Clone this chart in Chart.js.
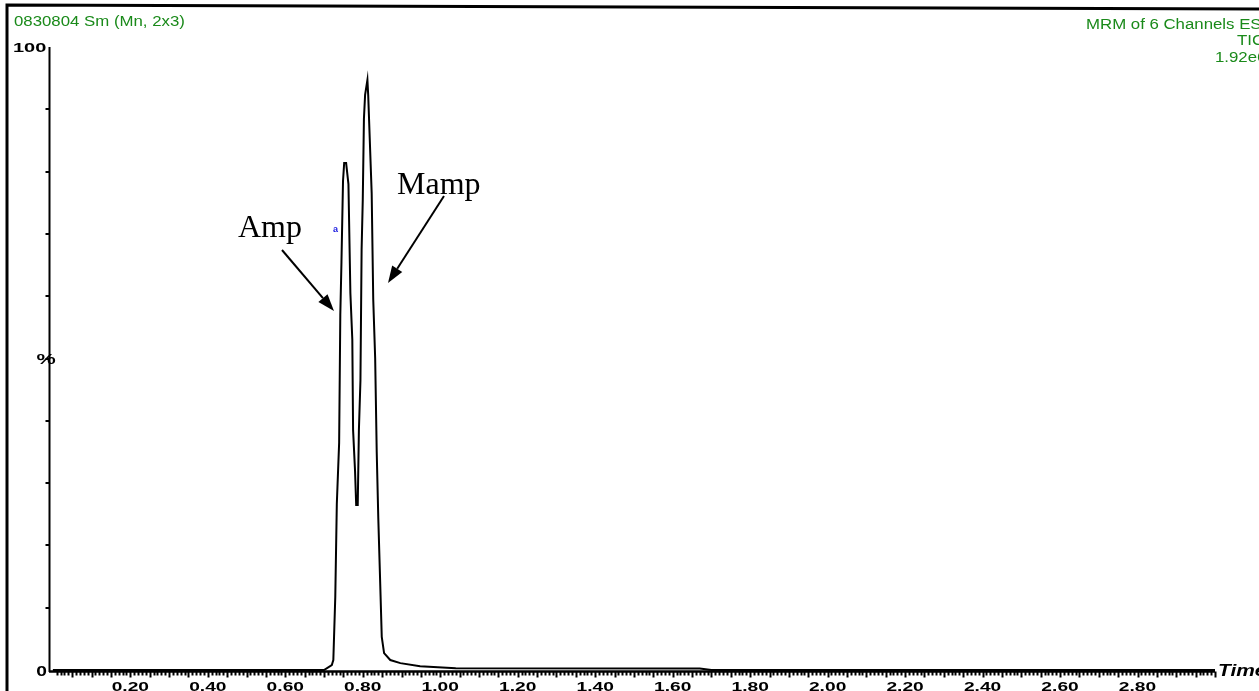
<!DOCTYPE html>
<html>
<head>
<meta charset="utf-8">
<script src="https://cdn.jsdelivr.net/npm/chart.js@4"></script>
<style>
  html, body { margin: 0; padding: 0; background: #fff; overflow: hidden; }
  canvas { display: block; }
</style>
</head>
<body>
<canvas id="ticChart" width="1259" height="691"></canvas>
<script>
// TIC trace: retention time (min) and relative intensity (%)
const retTime = [0.00, 0.70, 0.720, 0.724, 0.729, 0.733, 0.739, 0.742, 0.745, 0.749, 0.752, 0.757,
  0.763, 0.768, 0.773, 0.775, 0.780, 0.783, 0.787, 0.790, 0.794, 0.797, 0.800, 0.803, 0.806,
  0.812, 0.814, 0.819, 0.823, 0.827, 0.832, 0.836, 0.840, 0.845, 0.849, 0.855, 0.871, 0.897,
  0.948, 1.04, 1.67, 1.70, 3.00];
const intensity = [0, 0, 0.8, 1.6, 11.7, 26.7, 36.5, 57.0, 65.5, 78.5, 81.4, 81.4,
  78.0, 60.5, 53.0, 38.5, 32.0, 26.5, 26.5, 38.5, 46.5, 67.5, 75.5, 88.5, 92.3,
  94.7, 92.3, 83.5, 76.5, 59.5, 50.0, 35.0, 24.5, 13.9, 5.3, 2.7, 1.6, 1.1,
  0.6, 0.3, 0.25, 0, 0];

const xTickLabels = ['0.20', '0.40', '0.60', '0.80', '1.00', '1.20', '1.40', '1.60',
  '1.80', '2.00', '2.20', '2.40', '2.60', '2.80'];
const yTicks = [10, 20, 30, 40, 50, 60, 70, 80, 90];

const headerLeft = '0830804 Sm (Mn, 2x3)';
const headerRight = ['MRM of 6 Channels ES+', 'TIC', '1.92e6'];

// peak callouts: label, label position, arrow tail, arrow tip
const callouts = [
  { text: 'Amp', tx: 238, ty: 237, from: [282, 250], to: [334, 311] },
  { text: 'Mamp', tx: 397, ty: 194, from: [444, 196], to: [388, 283] }
];

function squashText(ctx, str, x, y, sx, sy, align) {
  ctx.save();
  ctx.translate(x, y);
  ctx.scale(sx, sy);
  ctx.textAlign = align || 'left';
  ctx.fillText(str, 0, 0);
  ctx.restore();
}

function arrow(ctx, from, to) {
  const ang = Math.atan2(to[1] - from[1], to[0] - from[0]);
  const head = 17, wing = 6;
  const bx = to[0] - head * Math.cos(ang), by = to[1] - head * Math.sin(ang);
  ctx.beginPath();
  ctx.moveTo(from[0], from[1]);
  ctx.lineTo(bx, by);
  ctx.lineWidth = 2;
  ctx.stroke();
  ctx.beginPath();
  ctx.moveTo(to[0], to[1]);
  ctx.lineTo(bx + wing * Math.sin(ang), by - wing * Math.cos(ang));
  ctx.lineTo(bx - wing * Math.sin(ang), by + wing * Math.cos(ang));
  ctx.closePath();
  ctx.fill();
}

const chromDecor = {
  id: 'chromDecor',
  afterDraw(chart) {
    const ctx = chart.ctx;
    const xs = chart.scales.x, ys = chart.scales.y;
    const area = chart.chartArea;
    ctx.save();
    ctx.fillStyle = '#000';
    ctx.strokeStyle = '#000';

    // outer frame
    ctx.lineWidth = 3;
    ctx.beginPath();
    ctx.moveTo(7, 700);
    ctx.lineTo(7, 5);
    ctx.lineTo(1262, 9);
    ctx.stroke();

    // y axis
    const x0 = Math.round(area.left) + 0.5;
    ctx.lineWidth = 2;
    ctx.beginPath();
    ctx.moveTo(x0, ys.getPixelForValue(100));
    ctx.lineTo(x0, ys.getPixelForValue(0) + 2);
    ctx.stroke();
    yTicks.forEach(v => {
      const py = Math.round(ys.getPixelForValue(v));
      ctx.beginPath();
      ctx.moveTo(x0 - 4, py);
      ctx.lineTo(x0, py);
      ctx.stroke();
    });

    // x axis ruler
    const yAx = ys.getPixelForValue(0) + 1.5;
    ctx.lineWidth = 2.5;
    ctx.beginPath();
    ctx.moveTo(area.left, yAx);
    ctx.lineTo(area.right, yAx);
    ctx.stroke();
    ctx.lineWidth = 2;
    for (let i = 1; i <= 300; i++) {
      const px = Math.round(xs.getPixelForValue(i / 100)) + 0.5;
      const len = i % 5 === 0 ? 6 : 4;
      ctx.beginPath();
      ctx.moveTo(px, yAx);
      ctx.lineTo(px, yAx + len);
      ctx.stroke();
    }

    // tick labels
    ctx.font = 'bold 16px "Liberation Sans", Arial, sans-serif';
    ctx.textBaseline = 'alphabetic';
    xTickLabels.forEach(t => {
      squashText(ctx, t, xs.getPixelForValue(parseFloat(t)), 691, 1.2, 0.85, 'center');
    });
    squashText(ctx, '100', 13, 52, 1.25, 0.85, 'left');
    squashText(ctx, '0', 47, 676, 1.2, 0.9, 'right');
    ctx.font = 'bold 18px "Liberation Sans", Arial, sans-serif';
    squashText(ctx, '%', 46, 364, 1.2, 0.8, 'center');
    ctx.font = 'bold italic 19px "Liberation Sans", Arial, sans-serif';
    squashText(ctx, 'Time', 1218, 676, 1.1, 0.85, 'left');

    // run headers
    ctx.fillStyle = '#1a8a1a';
    ctx.font = '14px "Liberation Sans", Arial, sans-serif';
    squashText(ctx, headerLeft, 14, 26, 1.2, 1.0, 'left');
    squashText(ctx, headerRight[0], 1086, 29, 1.2, 1.0, 'left');
    squashText(ctx, headerRight[1], 1237, 45, 1.2, 1.0, 'left');
    squashText(ctx, headerRight[2], 1215, 62, 1.2, 1.0, 'left');

    // tiny peak marker
    ctx.fillStyle = '#2020e0';
    ctx.font = 'bold 9px "Liberation Sans", Arial, sans-serif';
    ctx.fillText('a', 333, 232);

    // callouts
    ctx.fillStyle = '#000';
    ctx.font = '32px "Liberation Serif", "Times New Roman", serif';
    callouts.forEach(c => {
      ctx.fillText(c.text, c.tx, c.ty);
      arrow(ctx, c.from, c.to);
    });
    ctx.restore();
  }
};

new Chart(document.getElementById('ticChart').getContext('2d'), {
  type: 'line',
  data: {
    datasets: [{
      label: 'TIC',
      data: retTime.map((t, i) => ({ x: t, y: intensity[i] })),
      borderColor: '#000',
      borderWidth: 2,
      pointRadius: 0,
      tension: 0,
      fill: false
    }]
  },
  options: {
    responsive: false,
    animation: false,
    clip: false,
    layout: { padding: { left: 49, right: 44, top: 47, bottom: 21 } },
    plugins: { legend: { display: false }, tooltip: { enabled: false } },
    scales: {
      x: { type: 'linear', min: -0.01, max: 3.0, display: false },
      y: { min: 0, max: 100, display: false }
    }
  },
  plugins: [chromDecor]
});
</script>
</body>
</html>
